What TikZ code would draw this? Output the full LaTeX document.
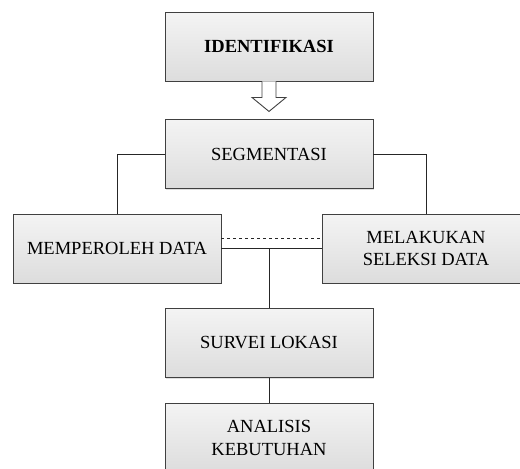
\documentclass[tikz,border=0pt]{standalone}
\usepackage{fontspec}
\setmainfont{Liberation Serif}
\usetikzlibrary{positioning,shadows}

\begin{document}
\begin{tikzpicture}[x=1pt, y=-1pt, node distance=38pt]
  \tikzset{
    stage/.style={draw=black!75, line width=0.9pt, top color=gray!9, bottom color=gray!27,
      minimum width=208pt, minimum height=69pt, align=center, inner sep=2pt,
      font=\fontsize{18.5}{22.5}\selectfont,
      drop shadow={opacity=0.25, shadow xshift=1.2pt, shadow yshift=-1.2pt}},
    link/.style={line width=1pt, draw=black!85},
    hollow/.style={draw=black!75, line width=0.9pt, fill=white, line join=miter}
  }
  \useasboundingbox (0,0) rectangle (520,469);
  \clip (0,0) rectangle (520,469);

  \node[stage, font=\fontsize{18.5}{22.5}\selectfont\bfseries] (iden) at (269,46.5) {IDENTIFIKASI};
  \node[stage, below=of iden] (seg) {SEGMENTASI};
  \node[stage] (data) at (117,248.5) {MEMPEROLEH DATA};
  \node[stage] (seleksi) at (426,248.5) {MELAKUKAN\\SELEKSI DATA};
  \node[stage] (survei) at (269,343) {SURVEI LOKASI};
  \node[stage, below=25pt of survei] (analisis) {ANALISIS\\KEBUTUHAN};

  % hollow arrow between the first two stages
  \draw[hollow] ([xshift=-7pt]iden.south) -- ++(0,16) -- ++(-10,0) -- ++(17,14)
    -- ++(17,-14) -- ++(-10,0) -- ++(0,-16);

  \draw[link] (seg.west) -| (data.north);
  \draw[link] (seg.east) -| (seleksi.north);
  \draw[link, dashed] ([yshift=10.5pt]data.east) -- ([yshift=10.5pt]seleksi.west);
  \draw[link] (data.east) -- (seleksi.west);
  \coordinate (mid) at (survei.north |- data.east);
  \draw[link] (mid) -- (survei.north);
  \draw[link] (survei) -- (analisis);
\end{tikzpicture}
\end{document}
